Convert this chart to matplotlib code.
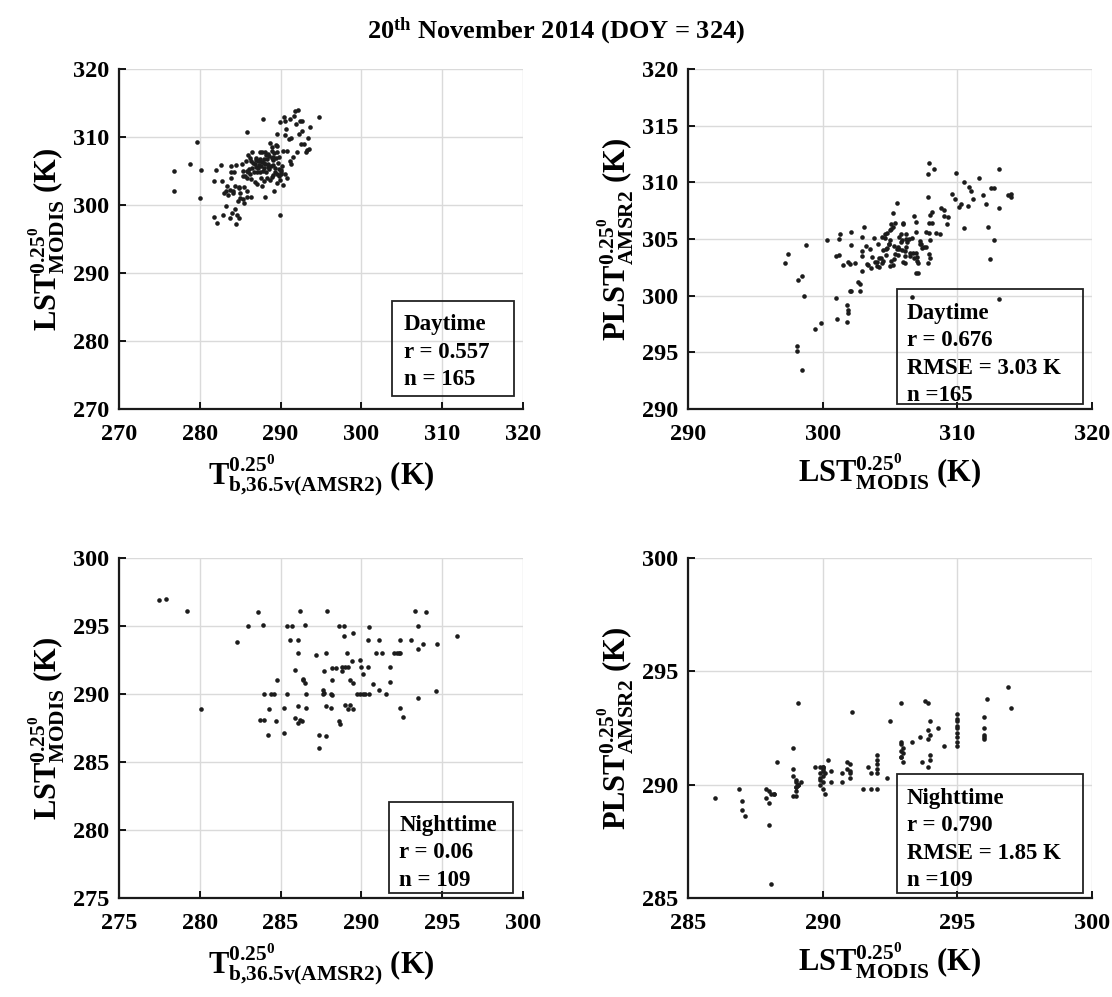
import matplotlib
matplotlib.use('Agg')
import matplotlib.pyplot as plt
from matplotlib.patches import Rectangle

# ---- data ----
# day: Tb 36.5V (x) vs MODIS LST (y)
day_tb = [276.8, 276.8, 279.6, 278.8, 280.2, 280.0, 282.0, 282.6, 281.7, 282.7,
          283.4, 283.9, 283.9, 283.9, 284.5, 284.2, 283.2, 281.7, 282.1, 282.9,
          283.7, 284.0, 284.4, 284.6, 284.8, 284.5, 283.3, 283.5, 283.8, 284.1,
          284.4, 284.8, 284.1, 285.0, 285.4, 285.0, 285.5, 285.8, 285.9, 286.3,
          285.2, 285.8, 285.9, 285.4, 285.9, 286.3, 285.7, 286.2, 286.0, 286.5,
          286.4, 286.8, 286.7, 287.1, 287.1, 287.7, 288.1, 287.4, 287.8, 288.2,
          288.3, 288.7, 288.9, 289.1, 288.6, 289.2, 289.8, 290.0, 289.8, 289.9,
          290.3, 290.8, 289.9, 287.4, 287.7, 288.1, 287.2, 287.6, 287.9, 288.5,
          287.4, 287.7, 288.1, 288.7, 288.9, 289.2, 289.5, 289.6, 289.0, 288.6,
          288.9, 289.4, 289.8, 290.3, 290.8, 289.6, 289.9, 290.4, 290.6, 290.7,
          290.6, 291.0, 291.3, 291.2, 291.6, 291.8, 292.2, 291.9, 292.4, 292.7,
          292.6, 292.3, 293.7, 294.7, 293.4, 292.5, 292.0, 293.1, 293.3, 293.5,
          291.2, 291.3, 287.8, 289.4, 286.9, 287.3, 286.6, 286.1, 287.0, 288.4,
          288.0, 288.8, 289.3, 289.6, 286.5, 287.5, 288.2, 289.0, 289.7, 290.1,
          286.9, 287.9, 288.5, 285.6, 286.2, 287.2, 288.9, 290.2, 289.3, 288.0,
          284.9, 285.3, 286.8, 287.6, 289.5, 290.5, 291.5, 292.9, 283.0, 284.7,
          285.5, 286.0, 288.3, 289.1, 290.0]
day_lst = [305.0, 302.0, 309.2, 306.0, 305.2, 301.0, 305.2, 305.9, 303.6, 303.6,
           302.8, 303.9, 304.9, 305.8, 305.9, 304.9, 299.9, 298.2, 297.4, 298.5,
           298.1, 298.8, 299.4, 298.6, 298.1, 297.2, 302.0, 301.5, 302.2, 302.1,
           302.8, 302.6, 301.7, 301.8, 300.9, 301.0, 300.3, 302.0, 301.2, 301.2,
           306.1, 310.8, 305.0, 305.0, 303.9, 303.8, 306.5, 306.9, 307.4, 307.8,
           306.4, 306.1, 304.9, 304.8, 303.1, 302.8, 301.2, 304.8, 305.0, 304.9,
           303.9, 303.7, 304.1, 304.4, 305.3, 302.1, 305.3, 304.9, 304.2, 303.7,
           302.9, 303.9, 298.5, 306.7, 306.3, 306.0, 306.5, 305.7, 305.5, 306.0,
           307.8, 307.8, 307.8, 309.1, 308.6, 307.6, 307.8, 308.7, 307.1, 307.2,
           306.9, 306.9, 307.0, 308.0, 308.0, 310.5, 312.2, 313.0, 312.3, 311.2,
           310.3, 309.7, 309.9, 312.7, 313.1, 313.8, 313.9, 311.9, 312.4, 312.3,
           310.9, 310.5, 311.5, 313.0, 309.9, 309.0, 307.8, 307.8, 308.1, 308.2,
           306.5, 306.1, 312.6, 308.8, 305.6, 305.9, 306.2, 305.3, 306.9, 305.6,
           306.2, 305.7, 305.4, 304.6, 305.5, 306.4, 307.3, 306.6, 306.2, 305.1,
           306.6, 306.8, 307.5, 304.3, 304.6, 305.4, 307.9, 305.8, 304.8, 303.5,
           302.5, 304.2, 303.4, 304.0, 303.2, 304.5, 307.0, 308.9, 301.8, 300.6,
           302.6, 304.9, 306.8, 305.9, 304.6]

# day: MODIS LST (x) vs predicted AMSR2 LST (y)
day_modis = [297.2, 297.4, 298.8, 298.2, 298.5, 298.6, 298.1, 298.1, 298.5, 299.4,
             299.9, 300.3, 301.0, 301.1, 301.8, 301.8, 301.9, 301.9, 301.0, 301.2,
             301.2, 301.3, 301.9, 302.0, 302.1, 302.1, 302.0, 302.1, 302.6, 302.8,
             302.8, 302.9, 302.9, 302.9, 302.9, 303.1, 303.5, 303.7, 303.8, 303.9,
             304.0, 304.2, 304.4, 304.5, 304.4, 304.6, 304.5, 304.8, 304.9, 305.0,
             305.0, 305.1, 305.2, 305.5, 305.2, 305.4, 305.1, 305.2, 305.4, 305.6,
             305.8, 306.0, 306.0, 305.9, 306.1, 306.0, 306.1, 306.2, 306.2, 306.5,
             306.7, 306.8, 306.9, 306.9, 306.9, 307.0, 307.1, 306.9, 307.1, 307.2,
             307.3, 306.6, 307.7, 307.7, 307.9, 308.0, 307.8, 307.9, 308.0, 308.1,
             307.8, 307.9, 308.0, 307.8, 307.9, 308.3, 308.7, 308.8, 309.0, 309.0,
             309.2, 309.6, 309.9, 310.1, 310.3, 310.5, 310.5, 310.8, 311.0, 311.2,
             311.6, 311.9, 312.1, 312.3, 312.4, 312.5, 312.7, 312.7, 313.1, 313.1,
             313.1, 313.8, 314.0, 314.0, 304.1, 304.3, 304.7, 305.3, 305.6, 305.9,
             306.3, 306.6, 307.4, 303.3, 303.6, 304.2, 304.8, 305.3, 305.7, 306.4,
             307.0, 304.0, 304.6, 305.1, 305.8, 306.1, 306.8, 303.4, 304.9, 305.5,
             306.2, 307.5, 308.4, 309.3, 301.5, 302.4, 303.2, 304.7, 305.0, 305.7,
             306.5, 307.2, 308.1, 309.8, 310.9]
day_plst = [302.9, 303.7, 304.5, 301.4, 301.7, 300.0, 295.6, 295.1, 293.4, 297.1,
            297.6, 304.9, 299.8, 297.9, 297.7, 299.2, 298.7, 298.5, 303.5, 303.6,
            305.0, 305.4, 303.0, 302.8, 304.5, 305.6, 300.4, 300.4, 301.2, 301.0,
            300.4, 302.2, 303.9, 303.5, 305.2, 306.1, 304.1, 303.4, 305.1, 303.0,
            302.6, 302.5, 302.9, 303.1, 305.2, 305.1, 304.0, 304.2, 304.6, 304.9,
            305.8, 306.3, 307.3, 308.2, 306.1, 306.4, 303.1, 302.7, 303.7, 304.3,
            305.4, 306.4, 306.3, 304.0, 303.9, 303.0, 302.9, 304.3, 305.4, 303.5,
            303.8, 307.0, 306.5, 305.6, 303.8, 303.1, 302.9, 302.0, 302.0, 304.8,
            304.6, 299.9, 304.3, 305.6, 305.5, 304.9, 308.7, 306.4, 307.1, 307.4,
            302.9, 303.7, 303.3, 310.7, 311.7, 311.2, 305.4, 307.7, 307.6, 307.0,
            306.3, 309.0, 310.8, 307.8, 308.1, 310.0, 306.0, 307.9, 309.2, 308.5,
            310.4, 308.9, 308.1, 306.1, 303.2, 309.5, 309.5, 304.9, 307.7, 311.2,
            299.7, 308.9, 309.0, 308.7, 304.6, 303.3, 304.1, 304.4, 303.6, 304.9,
            304.7, 305.1, 304.2, 302.8, 302.4, 303.3, 305.5, 303.2, 304.1, 305.0,
            303.4, 303.0, 305.4, 305.9, 304.7, 303.5, 303.3, 302.7, 304.6, 304.1,
            305.0, 304.3, 305.5, 306.9, 302.7, 302.9, 304.4, 303.6, 302.6, 305.2,
            303.8, 304.6, 306.4, 308.5, 309.6]

# night: Tb 36.5V (x) vs MODIS LST (y)
night_tb = [277.5, 277.9, 279.2, 280.1, 282.3, 283.0, 283.6, 283.9, 283.7, 284.0,
            284.0, 284.3, 284.2, 284.4, 284.6, 284.7, 284.8, 285.2, 285.2, 285.4,
            285.4, 285.7, 285.6, 285.9, 285.9, 286.1, 286.1, 286.1, 286.1, 286.2,
            286.2, 286.4, 286.4, 286.5, 286.5, 286.6, 286.6, 287.2, 287.4, 287.4,
            287.6, 287.6, 287.7, 287.8, 287.8, 287.9, 287.8, 288.1, 288.1, 288.2,
            288.2, 288.2, 288.6, 288.6, 288.7, 288.8, 288.8, 288.9, 288.9, 289.0,
            289.0, 289.1, 289.2, 289.2, 289.3, 289.3, 289.4, 289.5, 289.5, 289.5,
            289.7, 289.9, 289.9, 290.0, 290.1, 290.1, 290.4, 290.4, 290.5, 290.5,
            290.7, 290.9, 291.1, 291.1, 291.3, 291.5, 291.8, 291.8, 292.0, 292.2,
            292.4, 292.4, 292.4, 292.6, 293.1, 293.3, 293.5, 293.5, 293.5, 293.8,
            294.0, 294.6, 294.7, 295.9, 288.4, 287.7, 290.2, 292.3, 286.3]
night_lst = [296.9, 297.0, 296.1, 288.9, 293.8, 295.0, 296.0, 295.1, 288.1, 288.1,
             290.0, 288.9, 287.0, 290.0, 290.0, 288.0, 291.0, 287.1, 289.0, 290.0,
             295.0, 295.0, 294.0, 291.8, 288.2, 294.0, 293.0, 289.1, 287.9, 288.1,
             296.1, 291.1, 291.0, 290.8, 295.1, 289.0, 290.0, 292.9, 287.0, 286.0,
             290.3, 290.0, 291.7, 293.0, 286.9, 296.1, 289.1, 289.0, 290.0, 291.9,
             289.9, 291.0, 295.0, 288.0, 287.8, 292.0, 291.7, 294.3, 295.0, 289.2,
             292.0, 293.0, 288.9, 292.0, 291.0, 289.2, 292.4, 294.5, 290.8, 288.9,
             290.0, 292.5, 290.0, 292.0, 291.5, 290.0, 292.0, 294.0, 294.9, 290.0,
             290.7, 293.0, 294.0, 290.3, 293.0, 290.0, 292.0, 290.9, 293.0, 293.0,
             294.0, 293.0, 289.0, 288.3, 294.0, 296.1, 295.0, 293.3, 289.7, 293.7,
             296.0, 290.2, 293.7, 294.3, 291.9, 290.1, 290.0, 293.0, 288.0]

# night: MODIS LST (x) vs predicted AMSR2 LST (y)
night_modis = [286.0, 286.9, 287.0, 287.0, 287.1, 287.9, 287.9, 288.0, 288.1, 288.2,
               288.2, 288.0, 288.3, 288.9, 288.9, 288.9, 288.9, 289.0, 289.0, 289.0,
               289.1, 289.1, 289.0, 289.2, 289.1, 289.7, 289.9, 290.0, 290.0, 290.0,
               289.9, 289.9, 290.0, 289.9, 290.0, 290.1, 290.2, 290.3, 290.3, 290.7,
               290.7, 290.9, 291.0, 291.0, 291.1, 291.5, 291.7, 291.8, 291.8, 292.0,
               292.0, 292.0, 292.0, 292.4, 292.5, 292.9, 292.9, 292.9, 292.9, 292.9,
               292.9, 293.3, 293.6, 293.7, 293.8, 293.9, 293.9, 293.9, 293.9, 294.0,
               294.3, 294.5, 295.0, 295.0, 295.0, 295.0, 295.0, 295.0, 295.0, 296.0,
               296.0, 296.0, 296.0, 296.1, 296.9, 297.0, 288.1, 289.0, 289.1, 290.0,
               290.1, 290.9, 291.0, 292.0, 293.0, 293.0, 294.0, 294.0, 295.0, 295.0,
               290.0, 289.0, 291.0, 292.0, 293.0, 294.0, 296.0, 288.0, 289.9]
night_plst = [289.4, 289.8, 289.3, 288.9, 288.6, 289.8, 289.4, 289.2, 289.6, 289.6,
              289.6, 288.2, 291.0, 291.6, 290.7, 290.4, 289.5, 289.5, 290.2, 289.9,
              290.0, 290.0, 289.9, 290.1, 293.6, 290.8, 290.8, 290.8, 290.8, 290.6,
              290.3, 290.2, 290.1, 290.0, 289.8, 289.6, 291.1, 290.6, 290.1, 290.5,
              290.1, 291.0, 290.9, 290.5, 293.2, 289.8, 290.8, 290.5, 289.8, 290.5,
              289.8, 290.9, 291.3, 290.3, 292.8, 291.2, 291.2, 291.5, 291.8, 291.9,
              293.6, 291.9, 292.1, 291.0, 293.7, 293.6, 292.4, 292.0, 290.8, 291.3,
              292.5, 291.7, 293.1, 292.9, 292.8, 292.5, 292.3, 291.9, 291.7, 293.0,
              292.5, 292.2, 292.0, 293.8, 294.3, 293.4, 285.6, 289.7, 290.0, 290.4,
              290.5, 290.7, 290.6, 290.7, 291.4, 291.0, 292.2, 291.1, 292.6, 292.1,
              290.7, 290.1, 290.3, 291.1, 291.6, 292.8, 292.1, 289.7, 290.5]

title = r'20$^{\mathrm{th}}$ November 2014 (DOY = 324)'
lbl_tb = r'$T^{0.25^{0}}_{b{,}36.5v(AMSR2)}$ (K)'
lbl_modis = r'$LST^{0.25^{0}}_{MODIS}$ (K)'
lbl_plst = r'$PLST^{0.25^{0}}_{AMSR2}$ (K)'

plt.rcParams['font.family'] = 'Liberation Serif'
plt.rcParams['font.weight'] = 'bold'
plt.rcParams['axes.labelweight'] = 'bold'
plt.rcParams['figure.titleweight'] = 'bold'
plt.rcParams['mathtext.fontset'] = 'custom'
plt.rcParams['mathtext.rm'] = 'Liberation Serif:bold'
plt.rcParams['mathtext.it'] = 'Liberation Serif:bold'
plt.rcParams['mathtext.bf'] = 'Liberation Serif:bold'
plt.rcParams['mathtext.default'] = 'rm'

fig = plt.figure(figsize=(11.12, 9.97), dpi=100)

panels = [
    # axes rect, x, y, xlim, ylim, xticks step, yticks step, xlabel, ylabel, box rect, text pos, text
    ([0.107, 0.5898, 0.3633, 0.341], day_tb, day_lst, (270, 320), (270, 320), 10, 10,
     lbl_tb, lbl_modis, (0.677, 0.038, 0.301, 0.2805), (0.705, 0.279),
     'Daytime\nr = 0.557\nn = 165'),
    ([0.6187, 0.5898, 0.3633, 0.341], day_modis, day_plst, (290, 320), (290, 320), 10, 5,
     lbl_modis, lbl_plst, (0.517, 0.015, 0.461, 0.338), (0.541, 0.312),
     'Daytime\nr = 0.676\nRMSE = 3.03 K\nn =165'),
    ([0.107, 0.0993, 0.3633, 0.341], night_tb, night_lst, (275, 300), (275, 300), 5, 5,
     lbl_tb, lbl_modis, (0.668, 0.015, 0.308, 0.268), (0.694, 0.245),
     'Nighttime\nr = 0.06\nn = 109'),
    ([0.6187, 0.0993, 0.3633, 0.341], night_modis, night_plst, (285, 300), (285, 300), 5, 5,
     lbl_modis, lbl_plst, (0.517, 0.015, 0.461, 0.349), (0.541, 0.324),
     'Nighttime\nr = 0.790\nRMSE = 1.85 K\nn =109'),
]

for rect, xs, ys, xl, yl, xs_step, ys_step, xlab, ylab, box, tpos, txt in panels:
    ax = fig.add_axes(rect)
    ax.plot(xs, ys, 'o', color='#1c1c1c', markersize=3.3, markeredgewidth=0, zorder=3)
    ax.set_xlim(xl)
    ax.set_ylim(yl)
    ax.set_xticks(range(xl[0], xl[1] + 1, xs_step))
    ax.set_yticks(range(yl[0], yl[1] + 1, ys_step))
    ax.grid(True, color='#dadada', linewidth=1.0)
    ax.set_axisbelow(True)
    for s in ['top', 'right']:
        ax.spines[s].set_visible(False)
    for s in ['left', 'bottom']:
        ax.spines[s].set_linewidth(1.6)
        ax.spines[s].set_color('#1a1a1a')
    ax.tick_params(direction='in', length=5, width=1.3, labelsize=17.5,
                   top=False, right=False)
    ax.tick_params(axis='x', pad=11)
    ax.tick_params(axis='y', pad=7)
    for lab in ax.get_xticklabels() + ax.get_yticklabels():
        lab.set_fontweight('bold')
    ax.set_xlabel(xlab, fontsize=22, fontweight='bold', labelpad=5)
    ax.set_ylabel(ylab, fontsize=22, fontweight='bold', labelpad=4)
    ax.add_patch(Rectangle((box[0], box[1]), box[2], box[3], transform=ax.transAxes,
                           fill=False, edgecolor='#222222', linewidth=1.3, zorder=4))
    ax.text(tpos[0], tpos[1], txt, transform=ax.transAxes, fontsize=16.5,
            fontweight='bold', va='top', ha='left', linespacing=1.4, zorder=5)

fig.suptitle(title, fontsize=19, fontweight='bold', y=0.985)
fig.savefig('out.png', dpi=100)
